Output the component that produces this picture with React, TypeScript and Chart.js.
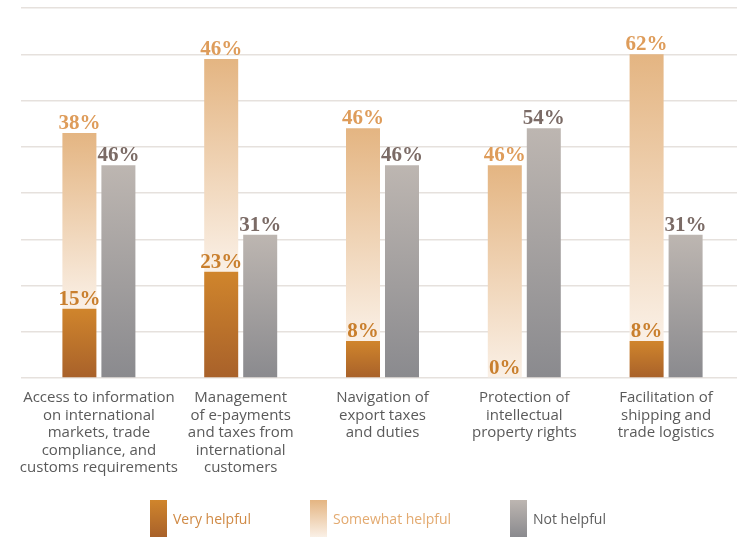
import React, { useEffect, useRef } from "react";
import { Chart, registerables } from "chart.js";

Chart.register(...registerables);

const categories: string[][] = [
  ["Access to information", "on international", "markets, trade", "compliance, and", "customs requirements"],
  ["Management", "of e-payments", "and taxes from", "international", "customers"],
  ["Navigation of", "export taxes", "and duties"],
  ["Protection of", "intellectual", "property rights"],
  ["Facilitation of", "shipping and", "trade logistics"],
];
const veryHelpful = [15, 23, 8, 0, 8];
const somewhatHelpful = [38, 46, 46, 46, 62];
const notHelpful = [46, 31, 46, 54, 31];
const seriesNames = ["Very helpful", "Somewhat helpful", "Not helpful"];
const yMax = 80;
const yStep = 10;

const gradStops: [string, string][] = [
  ["#d0852c", "#a8612a"],
  ["#e4b582", "#faf0e6"],
  ["#bdb6b1", "#8a8a8e"],
];
const labelColors = ["#c97f2d", "#de9c5a", "#7b6b66"];
const legendTextColors = ["#d08a45", "#e3aa70", "#5f5f5f"];
const sansFont = '"Open Sans", "Noto Sans", sans-serif';

function makeBg(dsIndex: number) {
  return (ctx: any) => {
    const chart = ctx.chart;
    const y = chart.scales?.y;
    if (!chart.chartArea || !y || ctx.type !== "data") return gradStops[dsIndex][0];
    const i = ctx.dataIndex;
    let lo = 0;
    let hi = 0;
    if (dsIndex === 0) {
      lo = 0;
      hi = veryHelpful[i];
    } else if (dsIndex === 1) {
      lo = veryHelpful[i];
      hi = veryHelpful[i] + somewhatHelpful[i];
    } else {
      lo = 0;
      hi = notHelpful[i];
    }
    const top = y.getPixelForValue(hi);
    const bottom = y.getPixelForValue(lo);
    if (bottom - top < 1) return gradStops[dsIndex][0];
    const g = chart.ctx.createLinearGradient(0, top, 0, bottom);
    g.addColorStop(0, gradStops[dsIndex][0]);
    g.addColorStop(1, gradStops[dsIndex][1]);
    return g;
  };
}

const valueLabels = {
  id: "valueLabels",
  afterDatasetsDraw(chart: any) {
    const ctx = chart.ctx;
    ctx.save();
    ctx.font = 'bold 21px "Liberation Serif", "DejaVu Serif", serif';
    ctx.textAlign = "center";
    ctx.textBaseline = "alphabetic";
    chart.data.datasets.forEach((ds: any, di: number) => {
      const meta = chart.getDatasetMeta(di);
      meta.data.forEach((el: any, i: number) => {
        ctx.fillStyle = labelColors[di];
        ctx.fillText(ds.data[i] + "%", el.x, el.y - 4);
      });
    });
    ctx.restore();
  },
};

const customLegend = {
  id: "customLegend",
  afterDraw(chart: any) {
    const ctx = chart.ctx;
    const items = [
      { sx: 150, tx: 173 },
      { sx: 310, tx: 333 },
      { sx: 510, tx: 533 },
    ];
    const top = 500;
    const h = 37;
    ctx.save();
    items.forEach((it, i) => {
      const g = ctx.createLinearGradient(0, top, 0, top + h);
      g.addColorStop(0, gradStops[i][0]);
      g.addColorStop(1, gradStops[i][1]);
      ctx.fillStyle = g;
      ctx.fillRect(it.sx, top, 17, h);
      ctx.font = "14px " + sansFont;
      ctx.fillStyle = legendTextColors[i];
      ctx.textAlign = "left";
      ctx.textBaseline = "middle";
      ctx.fillText(seriesNames[i], it.tx, 520);
    });
    ctx.restore();
  },
};

export default function App() {
  const ref = useRef<HTMLCanvasElement>(null);
  useEffect(() => {
    if (!ref.current) return;
    const common = {
      categoryPercentage: 0.55,
      barPercentage: 0.872,
      borderWidth: 0,
    };
    const chart = new Chart(ref.current, {
      type: "bar",
      data: {
        labels: categories as any,
        datasets: [
          { label: seriesNames[0], data: veryHelpful, stack: "a", backgroundColor: makeBg(0), ...common },
          { label: seriesNames[1], data: somewhatHelpful, stack: "a", backgroundColor: makeBg(1), ...common },
          { label: seriesNames[2], data: notHelpful, stack: "b", backgroundColor: makeBg(2), ...common },
        ],
      },
      options: {
        responsive: false,
        animation: false,
        layout: { padding: { left: 21, right: 0, top: 8, bottom: 0 } },
        plugins: {
          legend: { display: false },
          tooltip: { enabled: false },
        },
        scales: {
          x: {
            stacked: true,
            grid: { display: false, drawTicks: false },
            border: { display: false },
            ticks: {
              color: "#5a5a5a",
              font: { family: sansFont, size: 15, lineHeight: 1.17 },
              padding: 11,
              maxRotation: 0,
              autoSkip: false,
            },
            afterFit: (scale: any) => {
              scale.height = 159;
            },
          },
          y: {
            stacked: true,
            min: 0,
            max: yMax,
            ticks: { display: false, stepSize: yStep },
            grid: { color: "#e6e1dd", lineWidth: 1.5, drawTicks: true, tickLength: 7 },
            border: { display: false },
          },
        },
      },
      plugins: [valueLabels, customLegend],
    });
    return () => chart.destroy();
  }, []);
  return (
    <div style={{ position: "absolute", left: 0, top: 0, width: 737, height: 537, background: "#ffffff" }}>
      <canvas ref={ref} width={737} height={537} style={{ display: "block" }} />
    </div>
  );
}
